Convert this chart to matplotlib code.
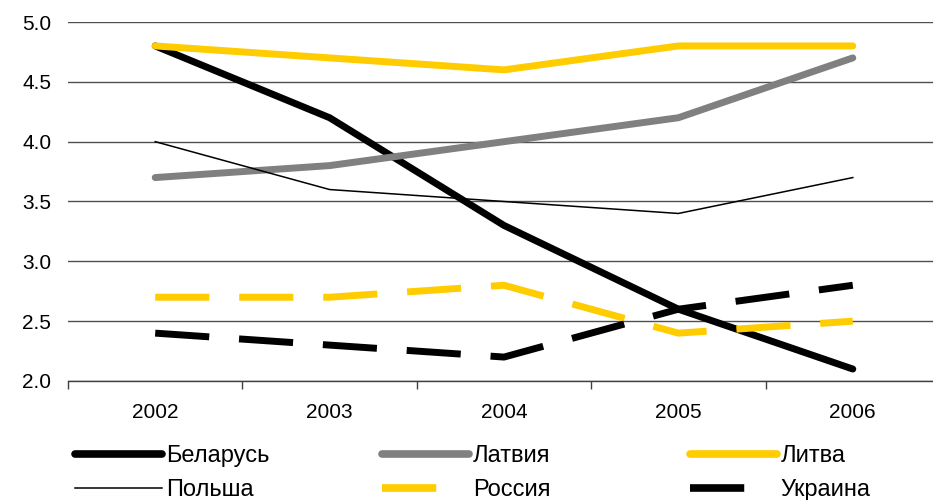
import matplotlib.pyplot as plt
from matplotlib.lines import Line2D

plt.rcParams['font.family'] = ['Liberation Sans', 'DejaVu Sans']

years = ['2002', '2003', '2004', '2005', '2006']
belarus = [4.8, 4.2, 3.3, 2.6, 2.1]
latvia = [3.7, 3.8, 4.0, 4.2, 4.7]
lithuania = [4.8, 4.7, 4.6, 4.8, 4.8]
poland = [4.0, 3.6, 3.5, 3.4, 3.7]
russia = [2.7, 2.7, 2.8, 2.4, 2.5]
ukraine = [2.4, 2.3, 2.2, 2.6, 2.8]

YELLOW = '#FFCC00'
GRAY = '#808080'
LW = 5
DASH = (7.8, 4.3)

fig = plt.figure(figsize=(9.33, 5), dpi=100)
ax = fig.add_axes([68 / 933, 119 / 500, 872 / 933, 359 / 500])

x = range(len(years))
ax.plot(x, belarus, color='black', lw=LW, solid_capstyle='round', solid_joinstyle='round', zorder=3)
ax.plot(x, latvia, color=GRAY, lw=LW, solid_capstyle='round', solid_joinstyle='round', zorder=3)
ax.plot(x, lithuania, color=YELLOW, lw=LW, solid_capstyle='round', solid_joinstyle='round', zorder=3)
ax.plot(x, poland, color='black', lw=1.1, zorder=3)
ax.plot(x, russia, color=YELLOW, lw=LW, dashes=DASH, dash_capstyle='butt', zorder=3)
ax.plot(x, ukraine, color='black', lw=LW, dashes=DASH, dash_capstyle='butt', zorder=3)

ax.set_xlim(-0.5, 4.5)
ax.set_ylim(2.0, 5.0)
ax.set_yticks([2.0, 2.5, 3.0, 3.5, 4.0, 4.5, 5.0])
ax.set_yticklabels(['%.1f' % v for v in ax.get_yticks()])
ax.set_xticks(list(x))
ax.set_xticklabels(years)
ax.set_xticks([i - 0.5 for i in range(len(years) + 1)], minor=True)
ax.tick_params(axis='x', which='major', length=0, pad=16, labelsize=15)
ax.tick_params(axis='x', which='minor', length=6, width=1, color='#404040', direction='out')
ax.tick_params(axis='y', length=0, pad=12, labelsize=15)

ax.grid(axis='y', color='#505050', lw=1)
ax.set_axisbelow(True)
for side in ['left', 'right', 'top']:
    ax.spines[side].set_visible(False)
ax.spines['bottom'].set_color('#404040')
ax.spines['bottom'].set_linewidth(1)
ax.spines['bottom'].set_zorder(1)

# legend: three columns, two rows each
columns = [
    [('Беларусь', Line2D([], [], color='black', lw=5.5, solid_capstyle='round')),
     ('Польша', Line2D([], [], color='black', lw=1.1))],
    [('Латвия', Line2D([], [], color=GRAY, lw=5.5, solid_capstyle='round')),
     ('Россия', Line2D([], [], color=YELLOW, lw=5.5, dashes=(7.1, 6), dash_capstyle='butt'))],
    [('Литва', Line2D([], [], color=YELLOW, lw=5.5, solid_capstyle='round')),
     ('Украина', Line2D([], [], color='black', lw=5.5, dashes=(7.1, 6), dash_capstyle='butt'))],
]
col_x = [75, 382, 690]
for cx, entries in zip(col_x, columns):
    fig.legend([h for _, h in entries], [t for t, _ in entries],
               loc='upper left', bbox_to_anchor=(cx / 933, 1 - 445 / 500),
               frameon=False, borderpad=0, borderaxespad=0,
               handlelength=3.7, handletextpad=0.14, labelspacing=0.52,
               prop={'size': 17})

fig.savefig('out.png', dpi=100)
